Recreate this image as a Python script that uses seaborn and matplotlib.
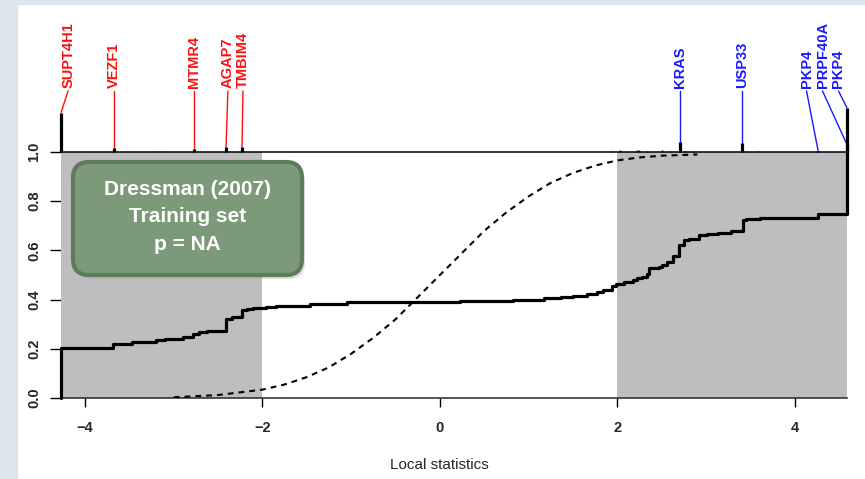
import matplotlib
matplotlib.use('Agg')
import matplotlib.pyplot as plt
import seaborn as sns
import pandas as pd
from matplotlib.patches import FancyBboxPatch, Rectangle
from matplotlib.transforms import IdentityTransform

sns.set_style('ticks')
plt.rcParams['font.family'] = ['Liberation Sans', 'DejaVu Sans']

# running-sum step curve (local statistics vs cumulative score)
step_x = [-4.27, -4.27, -3.68, -3.47, -3.20, -3.10, -2.90, -2.78, -2.71, -2.62, -2.41, -2.34,
          -2.23, -2.17, -2.11, -1.96, -1.85, -1.47, -1.05, 0.23, 0.82, 1.17, 1.36, 1.50,
          1.66, 1.77, 1.84, 1.94, 1.98, 2.07, 2.17, 2.22, 2.28, 2.33, 2.35, 2.47, 2.50,
          2.56, 2.62, 2.69, 2.75, 2.81, 2.92, 3.01, 3.13, 3.28, 3.41, 3.45, 3.61, 4.26,
          4.586, 4.586]
step_y = [0.0, 0.204, 0.218, 0.226, 0.234, 0.241, 0.247, 0.261, 0.268, 0.272, 0.322, 0.329,
          0.356, 0.361, 0.365, 0.369, 0.373, 0.383, 0.390, 0.394, 0.400, 0.405, 0.410, 0.416,
          0.423, 0.430, 0.437, 0.455, 0.465, 0.471, 0.478, 0.486, 0.491, 0.505, 0.528, 0.532,
          0.542, 0.553, 0.576, 0.623, 0.641, 0.648, 0.661, 0.668, 0.671, 0.679, 0.722, 0.729,
          0.733, 0.749, 0.749, 1.0]

# reference (null) curve, dashed
null_x = [-3.0, -2.5, -2.0, -1.75, -1.5, -1.25, -1.0, -0.75, -0.5, -0.25, 0.0, 0.25, 0.5,
          0.75, 1.0, 1.25, 1.5, 1.75, 2.0, 2.25, 2.5, 2.9]
null_y = [0.003, 0.012, 0.034, 0.055, 0.085, 0.125, 0.18, 0.245, 0.32, 0.41, 0.50, 0.59, 0.68,
          0.755, 0.82, 0.875, 0.915, 0.945, 0.966, 0.978, 0.985, 0.99]

# labelled genes
gene_names = ['SUPT4H1', 'VEZF1', 'MTMR4', 'AGAP7', 'TMBIM4', 'KRAS', 'USP33', 'PKP4', 'PRPF40A', 'PKP4']
gene_x = [-4.27, -3.67, -2.77, -2.41, -2.23, 2.70, 3.40, 4.26, 4.586, 4.586]
gene_top = [1.16, 1.015, 1.012, 1.02, 1.02, 1.04, 1.035, 1.006, 1.03, 1.18]
label_x = [-4.19, -3.67, -2.77, -2.39, -2.22, 2.70, 3.40, 4.13, 4.31, 4.49]
gene_colors = ['#ff1010'] * 5 + ['#1a1aff'] * 5

# small unlabelled rug marks
rug_x = [-3.19, -3.10, 1.94, 2.03, 2.22, 2.24, 2.33, 2.50, 2.60, 2.76, 2.85, 3.45, 3.60]
rug_top = [1.006, 1.006, 1.006, 1.008, 1.008, 1.008, 1.006, 1.01, 1.006, 1.006, 1.006, 1.006, 1.006]

x_min, x_max = -4.27, 4.586
xticks = [-4, -2, 0, 2, 4]
yticks = [0.0, 0.2, 0.4, 0.6, 0.8, 1.0]

fig = plt.figure(figsize=(8.65, 4.79), dpi=100, facecolor='white')
# light frame around the slide panel
fig.add_artist(Rectangle((0, 0), 17, 479, transform=IdentityTransform(), color='#dfe5ec', zorder=0))
fig.add_artist(Rectangle((0, 475), 865, 4, transform=IdentityTransform(), color='#dfe5ec', zorder=0))

ax = fig.add_axes([61 / 865, 81 / 479, 786 / 865, 393.6 / 479])
ax.patch.set_alpha(0)

# shaded tails
ax.fill_between([x_min, -2], 0, 1, color='#bebebe', lw=0, zorder=1)
ax.fill_between([2, x_max], 0, 1, color='#bebebe', lw=0, zorder=1)
ax.hlines(1.0, x_min, x_max, color='black', lw=1.1, zorder=3)

null_df = pd.DataFrame({'x': null_x, 'y': null_y})
sns.lineplot(data=null_df, x='x', y='y', ax=ax, color='black', lw=1.5,
             dashes=False, sort=False, estimator=None, zorder=4)
ax.lines[-1].set_dashes((2.8, 2.4))

step_df = pd.DataFrame({'x': step_x, 'y': step_y})
sns.lineplot(data=step_df, x='x', y='y', ax=ax, color='black', lw=2.3,
             sort=False, estimator=None, drawstyle='steps-post', zorder=5)
ax.lines[-1].set_clip_on(False)

# gene spikes, rug, labels
ax.vlines(rug_x, 1.0, rug_top, color='black', lw=1.0, zorder=5)
ax.vlines(gene_x, 1.0, gene_top, color='black', lw=2.3, zorder=6, clip_on=False)
for name, gx, gt, lx, c in zip(gene_names, gene_x, gene_top, label_x, gene_colors):
    ax.plot([lx, gx], [1.248, gt], color=c, lw=1.0, zorder=5, clip_on=False)
    ax.text(lx, 1.262, name, rotation=90, ha='center', va='bottom', color=c,
            fontsize=10.5, fontweight='bold')

ax.set_xlim(x_min, x_max)
ax.set_ylim(0, 1.6)
sns.despine(ax=ax, left=True, top=True, right=True)
ax.spines['bottom'].set_linewidth(1.1)
ax.set_xticks(xticks)
ax.set_yticks(yticks)
ax.set_yticklabels([f'{v:.1f}' for v in yticks], rotation=90, va='center', fontsize=10.5, fontweight='bold')
ax.set_xticklabels([f'{v}'.replace('-', '\u2212') for v in xticks], fontsize=10.5, fontweight='bold')
ax.tick_params(axis='x', direction='out', length=6.5, width=1.0, pad=10, color='black')
ax.tick_params(axis='y', direction='out', length=8, width=1.0, pad=6, color='black')
ax.set_xlabel('Local statistics', fontsize=11, va='center')
ax.xaxis.set_label_coords(0.482, -0.17)
ax.set_ylabel('')

# annotation box
shadow = FancyBboxPatch((76, 200), 229, 113, boxstyle='round,pad=0,rounding_size=16',
                        transform=IdentityTransform(), facecolor='#9a9a9a', edgecolor='none',
                        alpha=0.3, zorder=7)
box = FancyBboxPatch((73, 204), 229, 113, boxstyle='round,pad=0,rounding_size=16',
                     transform=IdentityTransform(), facecolor='#7c9a79', edgecolor='#5e7b5b',
                     lw=3, zorder=8)
fig.add_artist(shadow)
fig.add_artist(box)
fig.text(187.7 / 865, 1 - 217 / 479, 'Dressman (2007)\nTraining set\np = NA', ha='center', va='center',
         color='white', fontsize=15, fontweight='bold', linespacing=1.55, zorder=9)

fig.savefig('out.png', dpi=100, facecolor='white')
